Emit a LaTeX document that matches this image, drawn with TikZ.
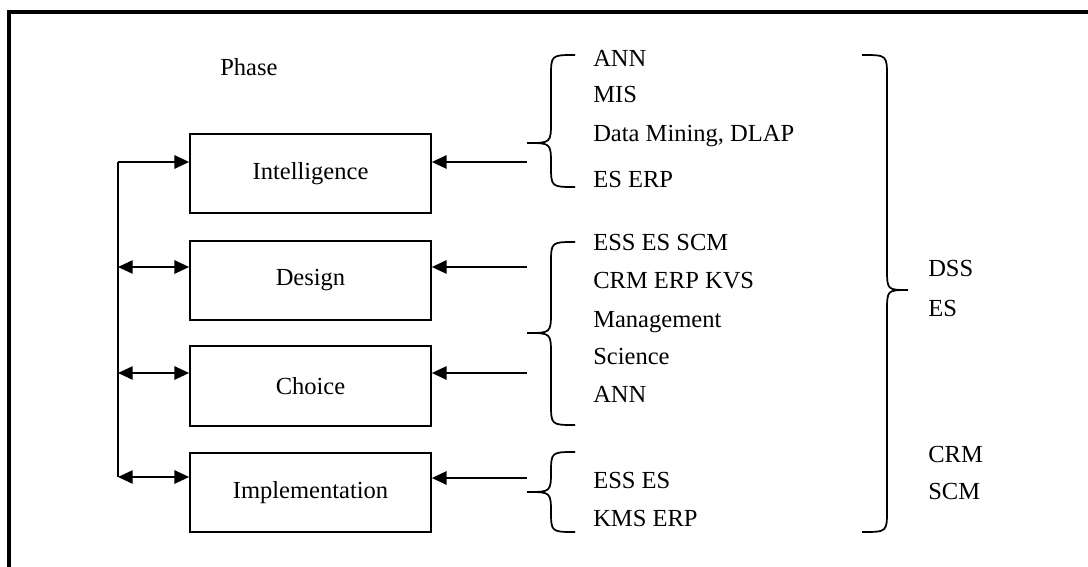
\documentclass[tikz,border=0pt]{standalone}
\usepackage{fontspec}
\setmainfont{Liberation Serif}
\usetikzlibrary{arrows.meta}

% curly brace: tip x, stem x, end x, top y, tip y, bottom y
\newcommand\curlbrace[6]{%
  \draw[bracestroke] (#3,#4) .. controls (#2,#4) .. (#2,#4+22)
    -- (#2,#5-22) .. controls (#2,#5) .. (#1,#5)
    .. controls (#2,#5) .. (#2,#5+22)
    -- (#2,#6-22) .. controls (#2,#6) .. (#3,#6);}

\begin{document}
\begin{tikzpicture}[x=0.75pt,y=-0.75pt,
  every node/.style={font=\fontsize{18.4}{22}\selectfont, inner sep=0pt},
  phasebox/.style={draw, line width=1.3pt, minimum width=180.75pt, minimum height=59.5pt},
  item/.style={anchor=base west},
  link/.style={line width=1.2pt},
  headin/.style={link, -{Triangle[length=11pt,width=10pt]}},
  headboth/.style={link, {Triangle[length=11pt,width=10pt]}-{Triangle[length=11pt,width=10pt]}},
  bracestroke/.style={line width=1.3pt},
  frame/.style={line width=3pt}]

\useasboundingbox (0,0) rectangle (1088,567);

% outer frame (top and left edges)
\draw[frame] (9,567) -- (9,12) -- (1090,12);

% phase boxes
\node[phasebox] (intel)  at (310.5,173.5) {Intelligence};
\node[phasebox] (design) at (310.5,280.5) {Design};
\node[phasebox] (choice) at (310.5,386)   {Choice};
\node[phasebox] (impl)   at (310.5,492.5) {Implementation};

\node[item] (phase) at (220,75) {Phase};

% feedback bus on the left
\coordinate (b1) at (118,162);
\coordinate (b2) at (118,267);
\coordinate (b3) at (118,373);
\coordinate (b4) at (118,477);
\draw[link] (b1) -- (b4);
\draw[headin]   (b1) -- (intel.west |- b1);
\draw[headboth] (b2) -- (design.west |- b2);
\draw[headboth] (b3) -- (choice.west |- b3);
\draw[headboth] (b4) -- (impl.west |- b4);

% inputs from the tool groups
\coordinate (r1) at (527,162);
\coordinate (r2) at (527,267);
\coordinate (r3) at (527,373);
\coordinate (r4) at (527,478);
\draw[headin] (r1) -- (intel.east |- r1);
\draw[headin] (r2) -- (design.east |- r2);
\draw[headin] (r3) -- (choice.east |- r3);
\draw[headin] (r4) -- (impl.east |- r4);

% group braces
\curlbrace{527}{551}{575}{55}{143}{187}
\curlbrace{527}{551}{575}{242}{333}{425}
\curlbrace{527}{551}{575}{452}{492}{532}
\curlbrace{908}{887}{862}{55}{290}{532}

% tool lists
\node[item] (t1) at (593,66)  {ANN};
\node[item] (t2) at (593,103) {MIS};
\node[item] (t3) at (593,141) {Data Mining, DLAP};
\node[item] (t4) at (593,187) {ES ERP};

\node[item] (t5) at (593,250) {ESS ES SCM};
\node[item] (t6) at (593,288) {CRM ERP KVS};
\node[item] (t7) at (593,327) {Management};
\node[item] (t8) at (593,364) {Science};
\node[item] (t9) at (593,402) {ANN};

\node[item] (t10) at (593,488) {ESS ES};
\node[item] (t11) at (593,526) {KMS ERP};

% system families
\node[item] (s1) at (928,276) {DSS};
\node[item] (s2) at (928,316) {ES};
\node[item] (s3) at (928,462) {CRM};
\node[item] (s4) at (928,499) {SCM};

\end{tikzpicture}
\end{document}
